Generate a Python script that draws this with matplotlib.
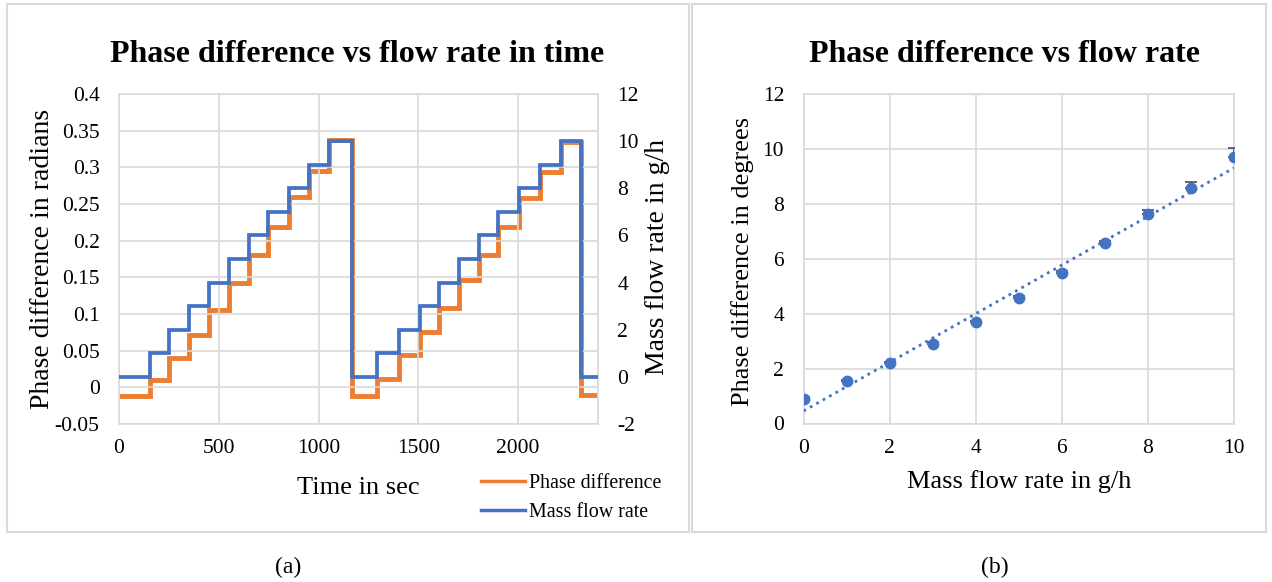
import matplotlib.pyplot as plt
import numpy as np
from matplotlib.patches import Rectangle

plt.rcParams['font.family'] = ['Liberation Serif', 'DejaVu Serif']
plt.rcParams['axes.unicode_minus'] = False

# (a) step test: segment edges in seconds, phase difference (rad) and mass flow (g/h) per segment
step_edges = [0, 155, 252, 352, 449, 549, 651, 748, 852, 953, 1054, 1169,
              1294, 1403, 1508, 1605, 1705, 1802, 1900, 2004, 2109, 2213, 2316, 2400]
phase_rad = [-0.012, 0.010, 0.040, 0.071, 0.105, 0.142, 0.180, 0.219, 0.260, 0.295, 0.337,
             -0.012, 0.012, 0.044, 0.075, 0.108, 0.146, 0.181, 0.219, 0.258, 0.294, 0.335,
             -0.010]
flow_gh = [0, 1, 2, 3, 4, 5, 6, 7, 8, 9, 10,
           0, 1, 2, 3, 4, 5, 6, 7, 8, 9, 10,
           0]

# (b) mean phase difference (deg) per flow rate, upper error
flow_rate = [0, 1, 2, 3, 4, 5, 6, 7, 8, 9, 10]
phase_deg = [0.91, 1.55, 2.19, 2.89, 3.68, 4.57, 5.48, 6.56, 7.63, 8.56, 9.69]
err_up = [0.05, 0.05, 0.06, 0.06, 0.07, 0.07, 0.08, 0.08, 0.14, 0.23, 0.33]

orange = '#ED7D31'
blue = '#4472C4'
grid_c = '#d9d9d9'
W, H = 1272, 582

fig = plt.figure(figsize=(12.72, 5.82), dpi=100)

# panel frames
fig.add_artist(Rectangle((7/W, 1-532/H), (689-7)/W, (532-4)/H, transform=fig.transFigure,
                         fill=False, edgecolor=grid_c, lw=1.5))
fig.add_artist(Rectangle((692/W, 1-532/H), (1266-692)/W, (532-4)/H, transform=fig.transFigure,
                         fill=False, edgecolor=grid_c, lw=1.5))

# ---- left chart
ax1 = fig.add_axes([119/W, 1-424/H, (598-119)/W, 330/H])
ax1.stairs(phase_rad, step_edges, baseline=None, color=orange, lw=3.5, label='Phase difference')
ax1.set_xlim(0, 2400)
ax1.set_ylim(-0.05, 0.4)
ax1.set_xticks([0, 500, 1000, 1500, 2000])
ax1.set_yticks(np.arange(-0.05, 0.401, 0.05))
ax1.set_yticklabels(['-0.05', '0', '0.05', '0.1', '0.15', '0.2', '0.25', '0.3', '0.35', '0.4'])
ax1.set_xticks([2400], minor=True)
ax1.grid(True, which='both', color=grid_c, lw=1.2)
ax1.tick_params(length=0, labelsize=15.5, pad=14, which='both')
ax1.tick_params(axis='x', pad=11)
for s in ax1.spines.values():
    s.set_color(grid_c)
    s.set_linewidth(1.2)

ax2 = ax1.twinx()
ax2.stairs(flow_gh, step_edges, baseline=None, color=blue, lw=2.7, label='Mass flow rate')
ax2.set_ylim(-2, 12)
ax2.set_yticks(range(-2, 13, 2))
ax2.tick_params(length=0, labelsize=15.5, pad=14)
for s in ax2.spines.values():
    s.set_visible(False)

fig.text(357/W, 1-62/H, 'Phase difference vs flow rate in time', ha='center', va='baseline',
         fontsize=23, fontweight='bold')
fig.text(43/W, 1-259/H, 'Phase difference in radians', rotation=90, ha='center', va='center', fontsize=20)
fig.text(657/W, 1-257/H, 'Mass flow rate in g/h', rotation=90, ha='center', va='center', fontsize=20)
fig.text(358/W, 1-494/H, 'Time in sec', ha='center', va='baseline', fontsize=19)

h1, l1 = ax1.get_legend_handles_labels()
h2, l2 = ax2.get_legend_handles_labels()
leg = fig.legend(h1 + h2, l1 + l2, loc='center left', bbox_to_anchor=(481/W, 1-498/H),
                 frameon=False, fontsize=14.4, handlelength=2.2, handletextpad=0.2,
                 labelspacing=0.5, borderpad=0, borderaxespad=0)
for line in leg.get_lines():
    line.set_linewidth(2.5)

# ---- right chart
ax3 = fig.add_axes([803.5/W, 1-423.5/H, (1234-803.5)/W, 329.5/H])
ax3.errorbar(flow_rate, phase_deg, yerr=[np.zeros(len(err_up)), err_up], fmt='o', color=blue,
             markersize=7.5, ecolor='#595959', elinewidth=1.3, capsize=4, capthick=1.3, zorder=3)
coef = np.polyfit(flow_rate, phase_deg, 1)
xx = np.array([0, 10])
ax3.plot(xx, np.polyval(coef, xx), ls=':', color=blue, lw=2, zorder=4)
ax3.set_xlim(0, 10)
ax3.set_ylim(0, 12)
ax3.set_xticks(range(0, 11, 2))
ax3.set_yticks(range(0, 13, 2))
ax3.grid(True, color=grid_c, lw=1.2)
ax3.tick_params(length=0, labelsize=15.5, pad=14)
ax3.tick_params(axis='x', pad=11)
for s in ax3.spines.values():
    s.set_color(grid_c)
    s.set_linewidth(1.2)

fig.text(1004/W, 1-62/H, 'Phase difference vs flow rate', ha='center', va='baseline',
         fontsize=23, fontweight='bold')
fig.text(743/W, 1-261/H, 'Phase difference in degrees', rotation=90, ha='center', va='center', fontsize=19)
fig.text(1019/W, 1-488/H, 'Mass flow rate in g/h', ha='center', va='baseline', fontsize=19)

fig.text(288/W, 1-567/H, '(a)', ha='center', va='center', fontsize=17)
fig.text(995/W, 1-567/H, '(b)', ha='center', va='center', fontsize=17)

fig.savefig('out.png', dpi=100)
